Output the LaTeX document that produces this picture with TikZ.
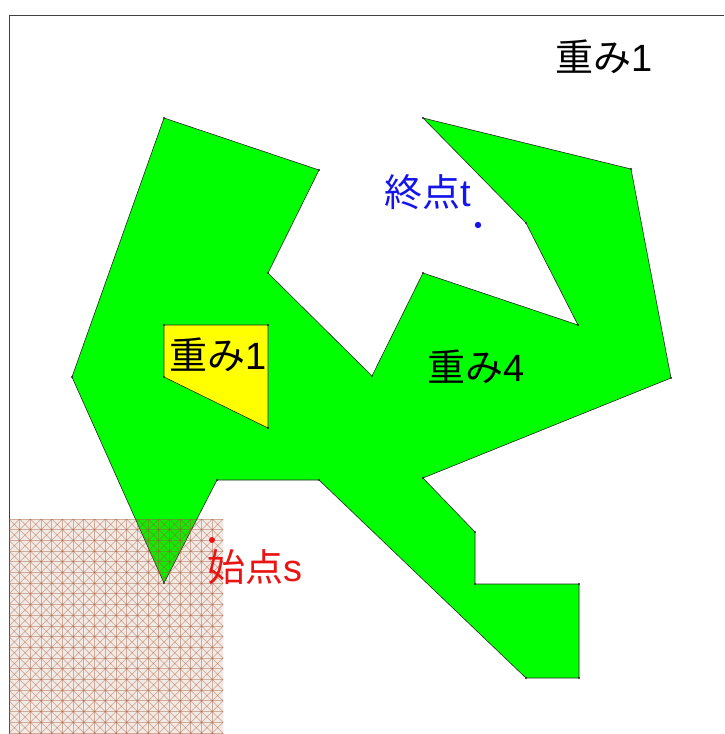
\documentclass[tikz,border=0pt]{standalone}
\usepackage{fontspec}
\newfontfamily\jp{Noto Sans CJK JP}
\newfontfamily\la{Liberation Sans}
\definecolor{gr}{RGB}{0,255,0}
\definecolor{ye}{RGB}{255,255,0}
\definecolor{hatch}{RGB}{160,85,50}
\definecolor{bl}{RGB}{20,20,235}
\definecolor{rd}{RGB}{235,20,20}
\tikzset{
  region/.style={draw=black!85,line width=0.6pt,line join=miter},
  lbl/.style={font=\jp\fontsize{38}{42}\selectfont,inner sep=0pt},
  vdot/.style={fill=black!85,radius=1.1},
  hline/.style={draw=hatch,draw opacity=0.42,line width=1pt},
  frame/.style={draw=black!75,line width=0.9pt}
}
\begin{document}
\begin{tikzpicture}[x=1pt,y=-1pt]
\useasboundingbox (0,0) rectangle (724,734);
\fill[white] (0,0) rectangle (724,734);
% frame
\coordinate (fa) at (9,15);
\coordinate (fb) at (724,15);
\coordinate (fc) at (9,734);
\draw[frame] (fb) -- (fa) -- (fc);
% green region
\draw[region,fill=gr] (164,118) -- (319,170) -- (268,273) -- (372,376) -- (423,273) -- (578,325)
  -- (526,223) -- (423,118) -- (631,169) -- (671,378) -- (423,478) -- (475,532) -- (475,584)
  -- (579,584) -- (579,678) -- (526,678) -- (319,480) -- (217,480) -- (164,583) -- (72,377) -- cycle;
\foreach \p in {(164,118),(319,170),(268,273),(372,376),(423,273),(578,325),(526,223),(423,118),(631,169),(671,378),(423,478),(475,532),(475,584),(579,584),(579,678),(526,678),(319,480),(217,480),(164,583),(72,377)}
  \fill[vdot] \p circle;
% yellow region
\draw[region,fill=ye] (164,325) -- (268,325) -- (268,428) -- (164,377) -- cycle;
\foreach \p in {(164,325),(268,325),(268,428),(164,377)}
  \fill[vdot] \p circle;
% hatched square
\begin{scope}
\clip (9,519) rectangle (223,734);
\fill[hatch,opacity=0.12] (9,519) rectangle (223,734);
\foreach \i in {0,...,21} {
  \pgfmathsetmacro{\xx}{9+10.7*\i}
  \pgfmathsetmacro{\yy}{519+10.7*\i}
  \draw[hline] (\xx,519) -- (\xx,740);
  \draw[hline] (9,\yy) -- (230,\yy);
}
\foreach \i in {-21,...,21} {
  \pgfmathsetmacro{\xa}{9+10.7*\i}
  \pgfmathsetmacro{\xb}{9+10.7*\i+235.4}
  \draw[hline,line width=0.7pt] (\xa,519) -- (\xb,754.4);
  \draw[hline,line width=0.7pt] (\xb,519) -- (\xa,754.4);
}
\end{scope}
% labels
\node[lbl] (w1) at (604,57) {重み{\la 1}};
\node[lbl] (w2) at (218,355) {重み{\la 1}};
\node[lbl] (w4) at (476,367) {重み{\la 4}};
\node[lbl,text=bl] (t) at (428,192) {終点{\la t}};
\node[lbl,text=rd] (s) at (255,567) {始点{\la s}};
\fill[bl] (478,225) circle (3.2);
\fill[rd] (212,540) circle (3);
\end{tikzpicture}
\end{document}
